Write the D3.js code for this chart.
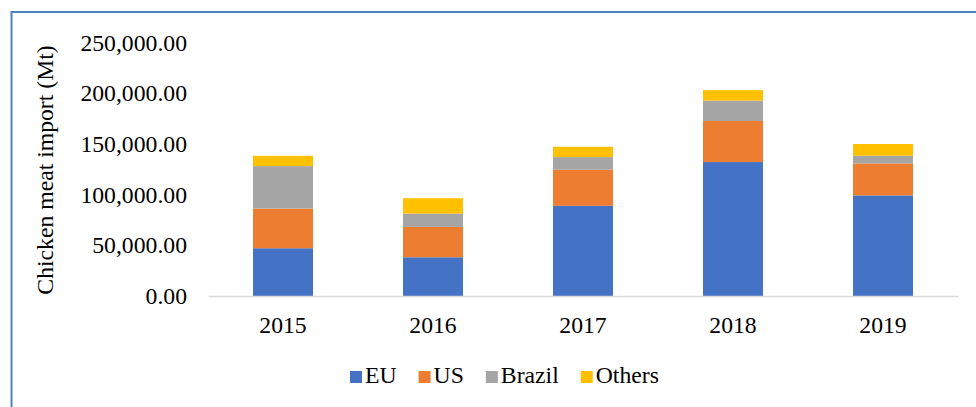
<!DOCTYPE html>
<html>
<head>
<meta charset="utf-8">
<script src="https://cdn.jsdelivr.net/npm/d3@7"></script>
<style>
  body { margin: 0; background: #fff; }
  svg { display: block; }
</style>
</head>
<body>
<script>
// Chart data
var years = ["2015", "2016", "2017", "2018", "2019"];
var seriesNames = ["EU", "US", "Brazil", "Others"];
var euValues = [47100, 38200, 88900, 132100, 99200];
var usValues = [39200, 29900, 35600, 40500, 31600];
var brazilValues = [41800, 13200, 12500, 20100, 7500];
var othersValues = [10200, 15100, 10200, 10300, 11600];
var yTicks = [0, 50000, 100000, 150000, 200000, 250000];

var colors = ["#4472C4", "#ED7D31", "#A5A5A5", "#FFC000"];

// Chart parameters
var svgWidth = 976;
var svgHeight = 407;
var plot = { left: 208, right: 958, top: 42.5, bottom: 296 };
var font = "'Liberation Serif', 'Times New Roman', serif";

var svg = d3.select("body")
            .append("svg")
            .attr("width", svgWidth)
            .attr("height", svgHeight);

// outer frame (only top and left edges visible in the crop)
svg.append("rect")
   .attr("x", 11.5)
   .attr("y", 12)
   .attr("width", 1000)
   .attr("height", 500)
   .attr("fill", "none")
   .attr("stroke", "#4F81BD")
   .attr("stroke-width", 2);

// build table for stacking
var table = years.map(function(y, i) {
    return { year: y, EU: euValues[i], US: usValues[i], Brazil: brazilValues[i], Others: othersValues[i] };
});
var stacked = d3.stack().keys(seriesNames)(table);

var xScale = d3.scaleBand()
               .domain(years)
               .range([plot.left, plot.right])
               .paddingInner(0.6)
               .paddingOuter(0.3);

var yScale = d3.scaleLinear()
               .domain([0, 250000])
               .range([plot.bottom, plot.top]);

// y axis labels
var leftAxis = d3.axisLeft(yScale)
                 .tickValues(yTicks)
                 .tickSize(0)
                 .tickPadding(21)
                 .tickFormat(d3.format(",.2f"));

var gy = svg.append("g")
            .attr("transform", `translate(${plot.left}, 0)`)
            .call(leftAxis);
gy.select(".domain").remove();
gy.selectAll("text")
  .attr("font-family", font)
  .attr("font-size", "23.7px")
  .attr("fill", "#000");

// bars
svg.append("g")
   .selectAll("g")
   .data(stacked)
   .enter()
   .append("g")
   .attr("fill", function(d, i) { return colors[i]; })
   .selectAll("rect")
   .data(function(d) { return d; })
   .enter()
   .append("rect")
   .attr("x", function(d) { return xScale(d.data.year); })
   .attr("y", function(d) { return yScale(d[1]); })
   .attr("width", xScale.bandwidth())
   .attr("height", function(d) { return yScale(d[0]) - yScale(d[1]); });

// x axis
var bottomAxis = d3.axisBottom(xScale)
                   .tickSize(0)
                   .tickPadding(20);

var gx = svg.append("g")
            .attr("transform", `translate(0, ${plot.bottom})`)
            .call(bottomAxis);
gx.select(".domain")
  .attr("stroke", "#D9D9D9")
  .attr("stroke-width", 1.5);
gx.selectAll("text")
  .attr("font-family", font)
  .attr("font-size", "23.7px")
  .attr("fill", "#000");

// y axis title
svg.append("text")
   .attr("transform", "translate(53, 170) rotate(-90)")
   .attr("text-anchor", "middle")
   .attr("font-family", font)
   .attr("font-size", "23.7px")
   .attr("fill", "#000")
   .text("Chicken meat import (Mt)");

// legend
var legend = svg.append("g").attr("transform", "translate(350, 371)");
var lx = 0;
seriesNames.forEach(function(name, i) {
    var item = legend.append("g").attr("transform", `translate(${lx}, 0)`);
    item.append("rect")
        .attr("width", 12)
        .attr("height", 12)
        .attr("fill", colors[i]);
    var t = item.append("text")
        .attr("x", 15)
        .attr("y", 12)
        .attr("font-family", font)
        .attr("font-size", "23.7px")
        .attr("fill", "#000")
        .text(name);
    lx += 15 + t.node().getComputedTextLength() + 22;
});
</script>
</body>
</html>
